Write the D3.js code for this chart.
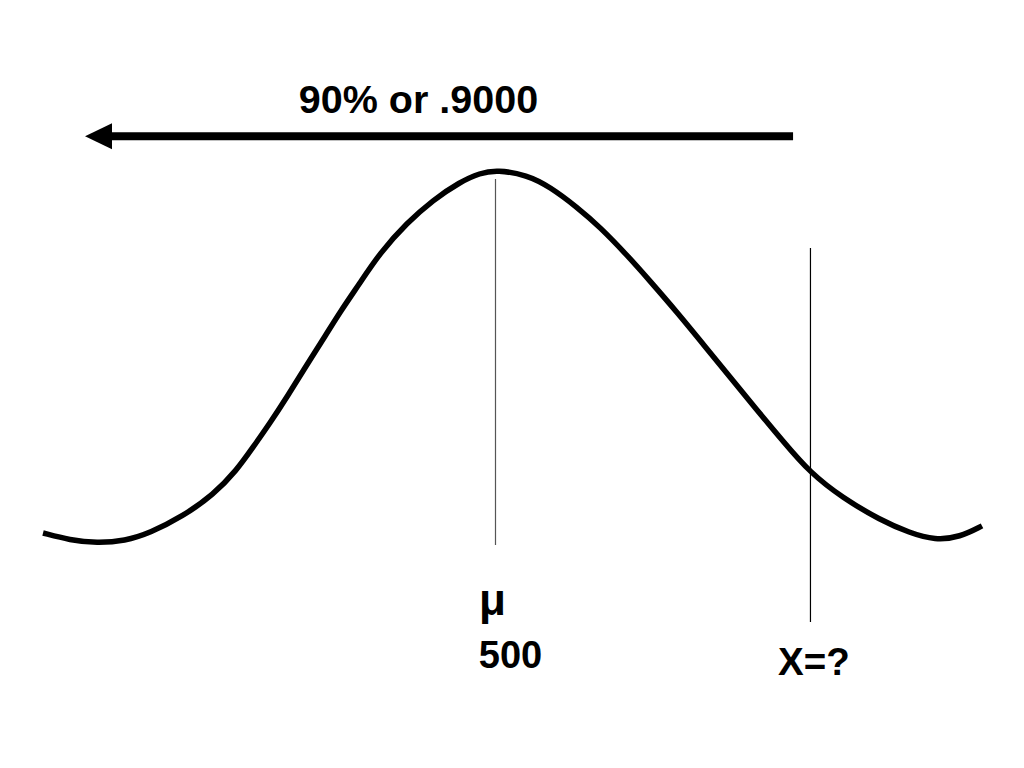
<!DOCTYPE html>
<html>
<head>
<meta charset="utf-8">
<script src="https://cdn.jsdelivr.net/npm/d3@7"></script>
<style>
  html, body { margin: 0; padding: 0; background: #fff; }
  svg { display: block; }
  text { font-family: "Liberation Sans", Arial, sans-serif; font-weight: bold; fill: #000; }
</style>
</head>
<body>
<svg id="chart" width="1024" height="768"></svg>
<script>
// ---- data ----
// x: score units (mean 500), y: relative height of the hand-drawn curve (peak = 1)
const curveX = [208.4, 225.8, 243.2, 261.3, 277.4, 298.7, 318.1, 333.5, 343.9, 354.8, 365.8, 376.1, 391.6, 400.0,
                412.9, 425.8, 443.2, 460.0, 477.4, 490.3, 501.3, 520.6, 535.5, 552.9, 567.7, 585.2, 600.0, 617.4,
                634.2, 651.6, 669.0, 685.8, 703.2, 724.5, 748.4, 767.7, 783.9, 800.0, 814.2];
const curveY = [0.032, 0.013, 0.005, 0.011, 0.032, 0.077, 0.133, 0.200, 0.261, 0.325, 0.395, 0.464, 0.565, 0.621,
                0.699, 0.779, 0.859, 0.920, 0.968, 0.992, 1.000, 0.987, 0.955, 0.901, 0.848, 0.773, 0.704, 0.621,
                0.536, 0.448, 0.360, 0.277, 0.193, 0.125, 0.067, 0.032, 0.013, 0.021, 0.051];

const meanValue = 500;          // μ
const cutoffValue = 703.2;      // X = ?
const arrowFrom = 692.3;        // arrow start (right end)
const arrowTo = 235.5;          // arrow tip (left)
const titleLabel = "90% or .9000";
const meanSymbol = "μ";
const meanLabel = "500";
const cutoffLabel = "X=?";

// ---- scales ----
const x = d3.scaleLinear().domain([200, 800]).range([30, 960]);
const y = d3.scaleLinear().domain([0, 1]).range([545, 170]);

const svg = d3.select("#chart");
svg.append("rect").attr("width", 1024).attr("height", 768).attr("fill", "#fff");

// vertical reference lines
svg.append("line")
  .attr("x1", x(meanValue) + 0.5).attr("x2", x(meanValue) + 0.5)
  .attr("y1", y(0.976)).attr("y2", y(0))
  .attr("stroke", "#555").attr("stroke-width", 1.2);

svg.append("line")
  .attr("x1", x(cutoffValue) + 0.5).attr("x2", x(cutoffValue) + 0.5)
  .attr("y1", y(0.792)).attr("y2", y(-0.205))
  .attr("stroke", "#000").attr("stroke-width", 1.2);

// curve
const pts = curveX.map((v, i) => [v, curveY[i]]);
svg.append("path")
  .datum(pts)
  .attr("d", d3.line().x(d => x(d[0])).y(d => y(d[1])).curve(d3.curveBasis))
  .attr("fill", "none")
  .attr("stroke", "#000")
  .attr("stroke-width", 5.5)
  .attr("stroke-linecap", "butt");

// arrow
const arrowY = y(1.09);
const headLen = 27, headHalf = 13;
svg.append("line")
  .attr("x1", x(arrowFrom)).attr("x2", x(arrowTo) + headLen - 2)
  .attr("y1", arrowY).attr("y2", arrowY)
  .attr("stroke", "#000").attr("stroke-width", 8);
svg.append("path")
  .attr("d", `M${x(arrowTo)},${arrowY} L${x(arrowTo) + headLen},${arrowY - headHalf} L${x(arrowTo) + headLen},${arrowY + headHalf} Z`)
  .attr("fill", "#000");

// labels
svg.append("text")
  .attr("x", 418.5).attr("y", 113)
  .attr("text-anchor", "middle")
  .attr("font-size", 39.5)
  .text(titleLabel);

svg.append("text")
  .attr("x", x(meanValue) - 16).attr("y", 615)
  .attr("font-size", 44)
  .text(meanSymbol);

svg.append("text")
  .attr("x", x(meanValue) + 15.5).attr("y", 668)
  .attr("text-anchor", "middle")
  .attr("font-size", 38)
  .text(meanLabel);

svg.append("text")
  .attr("x", x(cutoffValue) + 4).attr("y", 675)
  .attr("text-anchor", "middle")
  .attr("font-size", 38.5)
  .text(cutoffLabel);
</script>
</body>
</html>
